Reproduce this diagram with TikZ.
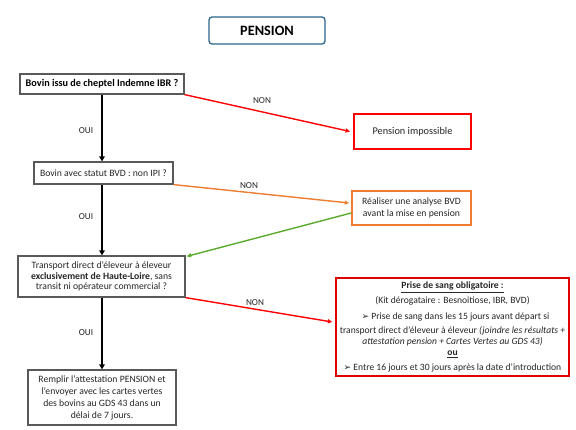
\documentclass[tikz,border=0pt]{standalone}
\usepackage{fontspec}
\setmainfont{Carlito}
\newfontfamily\djv{DejaVu Sans}
\usetikzlibrary{arrows.meta,calc}
\definecolor{txt}{HTML}{262626}
\definecolor{boxgray}{HTML}{595959}
\definecolor{pblue}{HTML}{2A6588}
\definecolor{red1}{HTML}{FF0000}
\definecolor{red2}{HTML}{E00000}
\definecolor{orange1}{HTML}{ED7D31}
\definecolor{green1}{HTML}{5BAA2E}
\tikzset{
  qbox/.style={draw=boxgray, line width=1.2pt, fill=white, inner sep=0pt, align=center, text=txt, font=\fontsize{9.7}{10.7}\selectfont},
  lbl/.style={text=txt, font=\fontsize{9.2}{10}\selectfont, inner sep=0pt},
  ouiarrow/.style={line width=2.4pt, -{Triangle[length=5pt,width=5.5pt]}},
  colarrow/.style={line width=1.4pt, -{Triangle[length=4.5pt,width=4pt]}},
}
\newcommand{\arr}{{\djv\fontsize{9}{8}\selectfont ➢}}
\begin{document}
\begin{tikzpicture}[x=1pt,y=-1pt]
\useasboundingbox (0,0) rectangle (576,429);
\fill[white] (0,0) rectangle (576,429);

\node[draw=pblue, line width=1.3pt, rounded corners=3pt, minimum width=116pt, minimum height=27pt, inner sep=0pt, text=black, font=\fontsize{14.3}{16}\selectfont\bfseries] (title) at (267,30.5) {PENSION};

\node[qbox, minimum width=164pt, minimum height=20pt, text=black, font=\fontsize{10.2}{12}\selectfont\bfseries] (b1) at (102,84) {Bovin issu de cheptel Indemne IBR ?};
\node[qbox, minimum width=139pt, minimum height=22pt] (b2) at (103.5,173) {Bovin avec statut BVD : non IPI ?};
\node[qbox, minimum width=167pt, minimum height=41pt] (b3) at (101.5,276.5) {Transport direct d’éleveur à éleveur\\\textbf{exclusivement de Haute-Loire}, sans\\transit ni opérateur commercial ?};
\node[qbox, minimum width=148pt, minimum height=55pt, font=\fontsize{9.7}{12}\selectfont] (b4) at (102,397.5) {Remplir l’attestation PENSION et\\l’envoyer avec les cartes vertes\\des bovins au GDS 43 dans un\\délai de 7 jours.};

\node[qbox, draw=red1, line width=1.8pt, minimum width=117pt, minimum height=35pt, font=\fontsize{10.3}{12}\selectfont] (imp) at (412.5,131.5) {Pension impossible};
\node[qbox, draw=orange1, line width=1.6pt, minimum width=119pt, minimum height=34pt, font=\fontsize{9.7}{11.5}\selectfont] (real) at (411.5,208) {Réaliser une analyse BVD\\avant la mise en pension};
\node[qbox, draw=red2, line width=1.3pt, minimum width=233pt, minimum height=98pt, font=\fontsize{9.6}{11}\selectfont] (prise) at (452.5,327) {\textbf{\underline{Prise de sang obligatoire :}}\\[4pt]
(Kit dérogataire : Besnoitiose, IBR, BVD)\\[5pt]
\hspace*{6pt}\arr\ Prise de sang dans les 15 jours avant départ si\\[3pt]
transport direct d’éleveur à éleveur \textit{(joindre les résultats +}\\
\textit{attestation pension + Cartes Vertes au GDS 43)}\\[-0.5pt]
\textbf{\underline{ou}}\\[4pt]
\arr\ Entre 16 jours et 30 jours après la date d’introduction};

\draw[ouiarrow] (b1.south) -- (b1.south |- b2.north);
\draw[ouiarrow] (b1.south |- b2.south) -- (b1.south |- b3.north);
\draw[ouiarrow] (b1.south |- b3.south) -- (b1.south |- b4.north);

\draw[colarrow, red1] (b1.south east) -- ($(imp.west)+(-3,0)$);
\draw[colarrow, orange1] (b2.south east) -- ($(real.west)+(-2,-5)$);
\draw[colarrow, green1] ($(real.west)+(0,5)$) -- ($(b3.north east)+(1,1)$);
\draw[colarrow, red1] (b3.south east) -- ($(prise.west)+(-3,-5)$);

\node[lbl] (n1) at (262,101) {NON};
\node[lbl] (n2) at (249,186) {NON};
\node[lbl] (n3) at (255,303) {NON};
\node[lbl] (o1) at (86,131) {OUI};
\node[lbl] (o2) at (86,217) {OUI};
\node[lbl] (o3) at (86,333) {OUI};
\end{tikzpicture}
\end{document}
